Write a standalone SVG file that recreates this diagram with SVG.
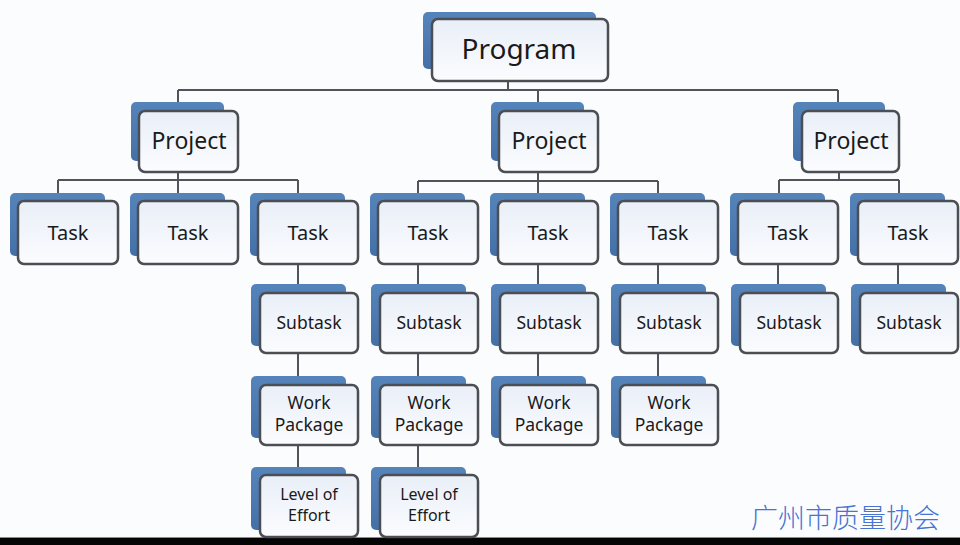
<svg xmlns="http://www.w3.org/2000/svg" width="960" height="545" viewBox="0 0 960 545">
<defs>
<linearGradient id="gBack" x1="0" y1="0" x2="0" y2="1">
<stop offset="0" stop-color="#5584bb"/>
<stop offset="1" stop-color="#4470a8"/>
</linearGradient>
<linearGradient id="gFront" x1="0" y1="0" x2="0" y2="1">
<stop offset="0" stop-color="#e9eff8"/>
<stop offset="1" stop-color="#fbfcfe"/>
</linearGradient>
</defs>
<style>
.back{fill:url(#gBack);}
.front{fill:url(#gFront);stroke:#4b4e53;stroke-width:2.5;}
.lbl{font-family:"Noto Sans","Open Sans","Liberation Sans",sans-serif;fill:#1a1a1a;text-anchor:middle;}
.t30{font-size:28px;}
.t22{font-size:23px;}
.t20{font-size:20px;}
.t17{font-size:17.5px;}
.t16{font-size:16px;}
.conn line,.conn path{stroke:#50535a;stroke-width:2;fill:none;}
.wm{font-family:"Noto Sans CJK SC",sans-serif;font-weight:300;font-size:27px;fill:#4673d4;}
</style>
<rect x="0" y="0" width="960" height="545" fill="#fbfcfd"/>
<rect x="0" y="538" width="960" height="7" fill="#050505"/>
<line x1="0" y1="537.5" x2="960" y2="537.5" stroke="#8a8a8a" stroke-width="1"/>

<g class="conn" id="connectors">
<path d="M508 81 V90 M178 90 H838 M178 90 V102 M538 90 V102 M838 90 V102"/>
<path d="M178 172 V180 M58 180 H298 M58 180 V193 M178 180 V193 M298 180 V193"/>
<path d="M538 172 V181 M418 181 H658 M418 181 V193 M538 181 V193 M658 181 V193"/>
<path d="M839 172 V180 M779 180 H899 M779 180 V193 M899 180 V193"/>
<path d="M298 264 V284 M418 264 V284 M538 264 V284 M658 264 V284 M778 264 V284 M898 264 V284"/>
<path d="M298 353 V376 M418 353 V376 M538 353 V376 M658 353 V376"/>
<path d="M298 445 V467 M418 445 V467"/>
</g>

<g id="program">
<rect class="back" x="423" y="12" width="173" height="57" rx="5"/>
<rect class="front" x="432" y="19" width="176" height="62" rx="6"/>
<text class="lbl t30" x="519" y="59">Program</text>
</g>

<g id="project1">
<rect class="back" x="131" y="102" width="93" height="59" rx="5"/>
<rect class="front" x="139" y="111" width="99" height="61" rx="6"/>
<text class="lbl t22" x="189" y="149">Project</text>
</g>
<g id="project2">
<rect class="back" x="491" y="102" width="93" height="59" rx="5"/>
<rect class="front" x="499" y="111" width="99" height="61" rx="6"/>
<text class="lbl t22" x="549" y="149">Project</text>
</g>
<g id="project3">
<rect class="back" x="793" y="102" width="92" height="59" rx="5"/>
<rect class="front" x="802" y="111" width="97" height="61" rx="6"/>
<text class="lbl t22" x="851" y="149">Project</text>
</g>

<g id="task1">
<rect class="back" x="10" y="193" width="95" height="63" rx="5"/>
<rect class="front" x="18" y="201" width="100" height="63" rx="6"/>
<text class="lbl t20" x="68" y="240">Task</text>
</g>
<g id="task2">
<rect class="back" x="130" y="193" width="95" height="63" rx="5"/>
<rect class="front" x="138" y="201" width="100" height="63" rx="6"/>
<text class="lbl t20" x="188" y="240">Task</text>
</g>
<g id="task3">
<rect class="back" x="250" y="193" width="95" height="63" rx="5"/>
<rect class="front" x="258" y="201" width="100" height="63" rx="6"/>
<text class="lbl t20" x="308" y="240">Task</text>
</g>
<g id="task4">
<rect class="back" x="370" y="193" width="95" height="63" rx="5"/>
<rect class="front" x="378" y="201" width="100" height="63" rx="6"/>
<text class="lbl t20" x="428" y="240">Task</text>
</g>
<g id="task5">
<rect class="back" x="490" y="193" width="95" height="63" rx="5"/>
<rect class="front" x="498" y="201" width="100" height="63" rx="6"/>
<text class="lbl t20" x="548" y="240">Task</text>
</g>
<g id="task6">
<rect class="back" x="610" y="193" width="95" height="63" rx="5"/>
<rect class="front" x="618" y="201" width="100" height="63" rx="6"/>
<text class="lbl t20" x="668" y="240">Task</text>
</g>
<g id="task7">
<rect class="back" x="730" y="193" width="95" height="63" rx="5"/>
<rect class="front" x="738" y="201" width="100" height="63" rx="6"/>
<text class="lbl t20" x="788" y="240">Task</text>
</g>
<g id="task8">
<rect class="back" x="850" y="193" width="95" height="63" rx="5"/>
<rect class="front" x="858" y="201" width="100" height="63" rx="6"/>
<text class="lbl t20" x="908" y="240">Task</text>
</g>

<g id="subtask3">
<rect class="back" x="251" y="284" width="95" height="62" rx="5"/>
<rect class="front" x="260" y="293" width="98" height="60" rx="6"/>
<text class="lbl t17" x="309" y="329">Subtask</text>
</g>
<g id="subtask4">
<rect class="back" x="371" y="284" width="95" height="62" rx="5"/>
<rect class="front" x="380" y="293" width="98" height="60" rx="6"/>
<text class="lbl t17" x="429" y="329">Subtask</text>
</g>
<g id="subtask5">
<rect class="back" x="491" y="284" width="95" height="62" rx="5"/>
<rect class="front" x="500" y="293" width="98" height="60" rx="6"/>
<text class="lbl t17" x="549" y="329">Subtask</text>
</g>
<g id="subtask6">
<rect class="back" x="611" y="284" width="95" height="62" rx="5"/>
<rect class="front" x="620" y="293" width="98" height="60" rx="6"/>
<text class="lbl t17" x="669" y="329">Subtask</text>
</g>
<g id="subtask7">
<rect class="back" x="731" y="284" width="95" height="62" rx="5"/>
<rect class="front" x="740" y="293" width="98" height="60" rx="6"/>
<text class="lbl t17" x="789" y="329">Subtask</text>
</g>
<g id="subtask8">
<rect class="back" x="851" y="284" width="95" height="62" rx="5"/>
<rect class="front" x="860" y="293" width="98" height="60" rx="6"/>
<text class="lbl t17" x="909" y="329">Subtask</text>
</g>

<g id="wp3">
<rect class="back" x="251" y="376" width="95" height="62" rx="5"/>
<rect class="front" x="260" y="385" width="98" height="60" rx="6"/>
<text class="lbl t17" x="309" y="409">Work</text>
<text class="lbl t17" x="309" y="431">Package</text>
</g>
<g id="wp4">
<rect class="back" x="371" y="376" width="95" height="62" rx="5"/>
<rect class="front" x="380" y="385" width="98" height="60" rx="6"/>
<text class="lbl t17" x="429" y="409">Work</text>
<text class="lbl t17" x="429" y="431">Package</text>
</g>
<g id="wp5">
<rect class="back" x="491" y="376" width="95" height="62" rx="5"/>
<rect class="front" x="500" y="385" width="98" height="60" rx="6"/>
<text class="lbl t17" x="549" y="409">Work</text>
<text class="lbl t17" x="549" y="431">Package</text>
</g>
<g id="wp6">
<rect class="back" x="611" y="376" width="95" height="62" rx="5"/>
<rect class="front" x="620" y="385" width="98" height="60" rx="6"/>
<text class="lbl t17" x="669" y="409">Work</text>
<text class="lbl t17" x="669" y="431">Package</text>
</g>

<g id="loe3">
<rect class="back" x="251" y="467" width="95" height="63" rx="5"/>
<rect class="front" x="260" y="475" width="98" height="62" rx="6"/>
<text class="lbl t16" x="309" y="500">Level of</text>
<text class="lbl t16" x="309" y="521">Effort</text>
</g>
<g id="loe4">
<rect class="back" x="371" y="467" width="95" height="63" rx="5"/>
<rect class="front" x="380" y="475" width="98" height="62" rx="6"/>
<text class="lbl t16" x="429" y="500">Level of</text>
<text class="lbl t16" x="429" y="521">Effort</text>
</g>

<text class="wm" x="751" y="528">广州市质量协会</text>
</svg>
